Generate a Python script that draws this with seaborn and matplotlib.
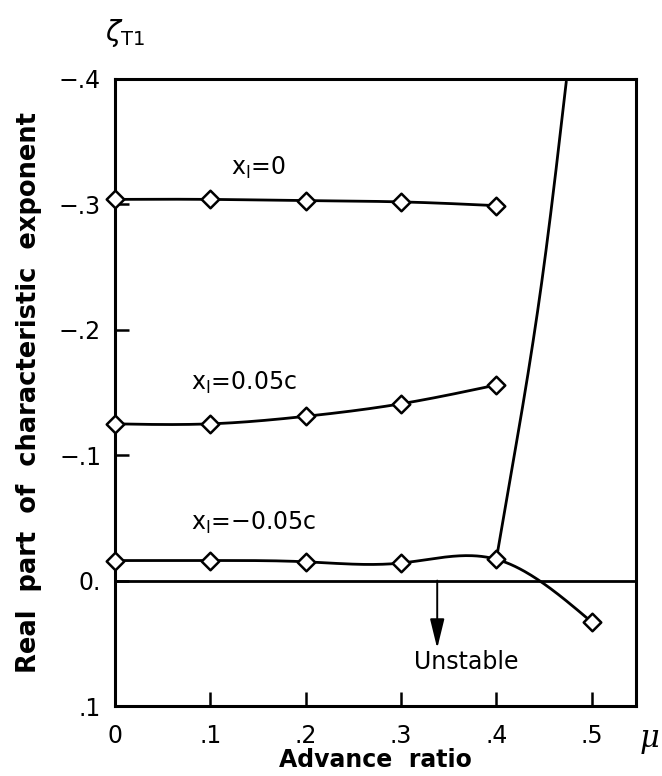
import numpy as np
import pandas as pd
import matplotlib
matplotlib.use("Agg")
import matplotlib.pyplot as plt
import seaborn as sns

# Advance ratio stations
mu = [0.0, 0.1, 0.2, 0.3, 0.4]
mu_neg = [0.0, 0.1, 0.2, 0.3, 0.4, 0.5]

# Real part of characteristic exponent for each hinge offset
zeta_x0 = [-0.304, -0.304, -0.303, -0.302, -0.299]
zeta_xpos = [-0.125, -0.125, -0.131, -0.141, -0.156]
zeta_xneg = [-0.016, -0.016, -0.015, -0.014, -0.017, 0.033]

# Second (rapidly destabilising) branch leaving mu = 0.4
mu_branch = [0.400, 0.4077, 0.4242, 0.4460, 0.4628, 0.4734]
zeta_branch = [-0.017, -0.0515, -0.1236, -0.2291, -0.3288, -0.398]

xticks = [0.0, 0.1, 0.2, 0.3, 0.4, 0.5]
xticklabels = ["0", ".1", ".2", ".3", ".4", ".5"]
yticks = [-0.4, -0.3, -0.2, -0.1, 0.0, 0.1]
yticklabels = ["\u2212.4", "\u2212.3", "\u2212.2", "\u2212.1", "0.", ".1"]


def natural_spline(x, y, n=300):
    """Natural cubic spline through (x, y), sampled on n points."""
    x = np.asarray(x, float)
    y = np.asarray(y, float)
    k = len(x)
    h = np.diff(x)
    A = np.zeros((k, k))
    b = np.zeros(k)
    A[0, 0] = A[-1, -1] = 1.0
    for i in range(1, k - 1):
        A[i, i - 1] = h[i - 1]
        A[i, i] = 2 * (h[i - 1] + h[i])
        A[i, i + 1] = h[i]
        b[i] = 6 * ((y[i + 1] - y[i]) / h[i] - (y[i] - y[i - 1]) / h[i - 1])
    M = np.linalg.solve(A, b)
    xs = np.linspace(x[0], x[-1], n)
    idx = np.clip(np.searchsorted(x, xs) - 1, 0, k - 2)
    x0, x1 = x[idx], x[idx + 1]
    hh = x1 - x0
    t0, t1 = x1 - xs, xs - x0
    ys = (M[idx] * t0 ** 3 + M[idx + 1] * t1 ** 3) / (6 * hh) \
        + (y[idx] / hh - M[idx] * hh / 6) * t0 \
        + (y[idx + 1] / hh - M[idx + 1] * hh / 6) * t1
    return xs, ys


sns.set_theme(style="ticks")
plt.rcParams["font.family"] = ["DejaVu Sans"]
plt.rcParams["mathtext.fontset"] = "dejavusans"
plt.rcParams["text.color"] = "black"
plt.rcParams["axes.labelcolor"] = "black"

fig = plt.figure(figsize=(6.62, 7.76), dpi=100)
ax = fig.add_axes([0.1737, 0.0902, 0.787, 0.808])

LW = 2.0

# Smooth curves through the computed points
curves = [natural_spline(mu, zeta_x0),
          natural_spline(mu, zeta_xpos),
          natural_spline(mu_neg, zeta_xneg)]
# The steep branch is smoothed along zeta (it is nearly vertical)
bz, bm = natural_spline(zeta_branch[::-1], mu_branch[::-1])
curves.append((bm, bz))
for sx, sy in curves:
    sns.lineplot(x=sx, y=sy, ax=ax, color="black", lw=LW, sort=False,
                 estimator=None)

# Diamond markers at the computed stations
pts = pd.DataFrame({
    "mu": mu + mu + mu_neg,
    "zeta": zeta_x0 + zeta_xpos + zeta_xneg,
})
sns.scatterplot(data=pts, x="mu", y="zeta", ax=ax, marker="D", s=80,
                facecolor="white", edgecolor="black", linewidth=1.8,
                zorder=5, clip_on=False)

ax.axhline(0.0, color="black", lw=LW)

ax.set_xlim(0.0, 0.5465)
ax.set_ylim(0.1, -0.4)

ax.set_xticks(xticks)
ax.set_xticklabels(xticklabels)
ax.set_yticks(yticks)
ax.set_yticklabels(yticklabels)
ax.tick_params(direction="in", length=10, width=1.8, labelsize=17,
               colors="black")
ax.tick_params(axis="x", pad=13)
ax.tick_params(axis="y", pad=10)

for s in ax.spines.values():
    s.set_linewidth(2.2)
    s.set_color("black")
    s.set_visible(True)

ax.set_xlabel("Advance  ratio", fontsize=17, fontweight="bold", labelpad=0)
ax.set_ylabel("Real  part  of  characteristic  exponent", fontsize=18.5,
              fontweight="bold", labelpad=12)

# Curve labels
lab_kw = dict(fontsize=17, color="black", ha="left", va="center")
ax.text(0.122, -0.329, r"x$_\mathrm{I}$=0", **lab_kw)
ax.text(0.080, -0.158, r"x$_\mathrm{I}$=0.05c", **lab_kw)
ax.text(0.080, -0.046, r"x$_\mathrm{I}$=$-$0.05c", **lab_kw)

# Unstable region indicator
ax.annotate("", xy=(0.338, 0.054), xytext=(0.338, 0.0),
            arrowprops=dict(arrowstyle="-|>,head_length=0.9,head_width=0.22",
                            color="black", lw=1.4, mutation_scale=20,
                            shrinkA=0, shrinkB=0))
ax.text(0.368, 0.065, "Unstable", fontsize=17, ha="center", va="center")

fig.text(125 / 662, 1 - 33 / 776, r"$\zeta_{\mathrm{T1}}$", fontsize=20,
         ha="center", va="center")
fig.text(650 / 662, 1 - 738 / 776, "\u03bc", fontsize=22, style="italic",
         family="DejaVu Serif", ha="center", va="center")

fig.savefig("out.png", dpi=100, facecolor="white")
